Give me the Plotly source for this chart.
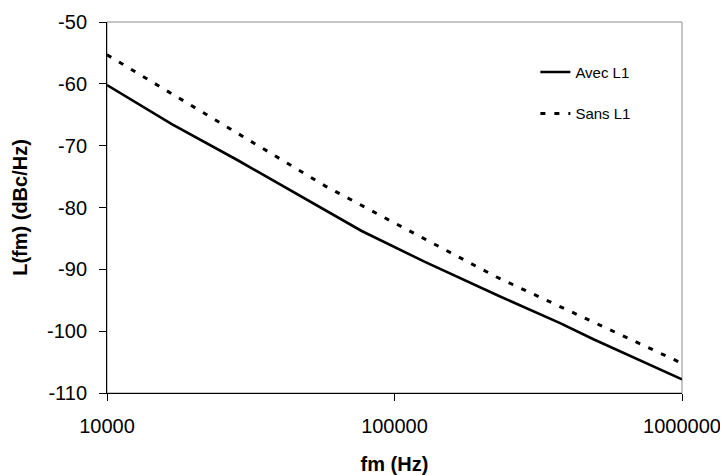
import plotly.graph_objects as go

# Data
freq_avec = [10000, 16800, 28600, 46900, 76900, 127600, 233000, 376700, 492000, 1000000]
lfm_avec = [-60.2, -66.5, -72.4, -78.1, -83.8, -88.8, -94.4, -98.7, -101.3, -107.8]

freq_sans = [10000, 46200, 57300, 100000, 225500, 1000000]
lfm_sans = [-55.3, -73.8, -76.5, -82.5, -91.2, -105.2]

x_tickvals = [10000, 100000, 1000000]
x_ticktext = ["10000", "100000", "1000000"]
y_tickvals = [-110, -100, -90, -80, -70, -60, -50]
y_ticktext = ["-110", "-100", "-90", "-80", "-70", "-60", "-50"]

FONT = "Arial, Liberation Sans, sans-serif"

fig = go.Figure()
fig.add_trace(go.Scatter(
    x=freq_avec, y=lfm_avec, mode="lines", name="Avec L1",
    line=dict(color="black", width=2.6), legendgroup="a"))
fig.add_trace(go.Scatter(
    x=freq_sans, y=lfm_sans, mode="lines", name="Sans L1",
    line=dict(color="black", width=3, dash="5px,9px"), legendgroup="b"))

fig.update_layout(
    width=728, height=475,
    margin=dict(l=99, r=54, t=14, b=90, autoexpand=False),
    paper_bgcolor="white", plot_bgcolor="white",
    font=dict(family=FONT, color="black", size=20),
    showlegend=True,
    legend=dict(
        x=0.745, y=0.909, xanchor="left", yanchor="top",
        bgcolor="rgba(0,0,0,0)", borderwidth=0,
        font=dict(size=15, family=FONT),
        tracegroupgap=19, traceorder="grouped"),
    shapes=[dict(type="rect", xref="paper", yref="paper", x0=0, y0=0, x1=1, y1=1,
                 line=dict(color="#8c8c8c", width=1), layer="below")],
)
fig.update_xaxes(
    type="log", range=[4, 6], tickvals=x_tickvals, ticktext=x_ticktext,
    automargin=False,
    showgrid=False, zeroline=False, showline=True, linecolor="black", linewidth=1,
    ticks="outside", ticklen=7, tickcolor="black", ticklabelstandoff=8,
    tickfont=dict(size=20),
    title=dict(text="<b>fm (Hz)</b>", font=dict(size=20), standoff=20))
fig.update_yaxes(
    range=[-110, -50], tickvals=y_tickvals, ticktext=y_ticktext,
    automargin=False,
    showgrid=False, zeroline=False, showline=True, linecolor="black", linewidth=1,
    ticks="outside", ticklen=7, tickcolor="black", ticklabelstandoff=8,
    tickfont=dict(size=20),
    title=dict(text="<b>L(fm) (dBc/Hz)</b>", font=dict(size=20), standoff=13))

fig.write_html("out.html")
